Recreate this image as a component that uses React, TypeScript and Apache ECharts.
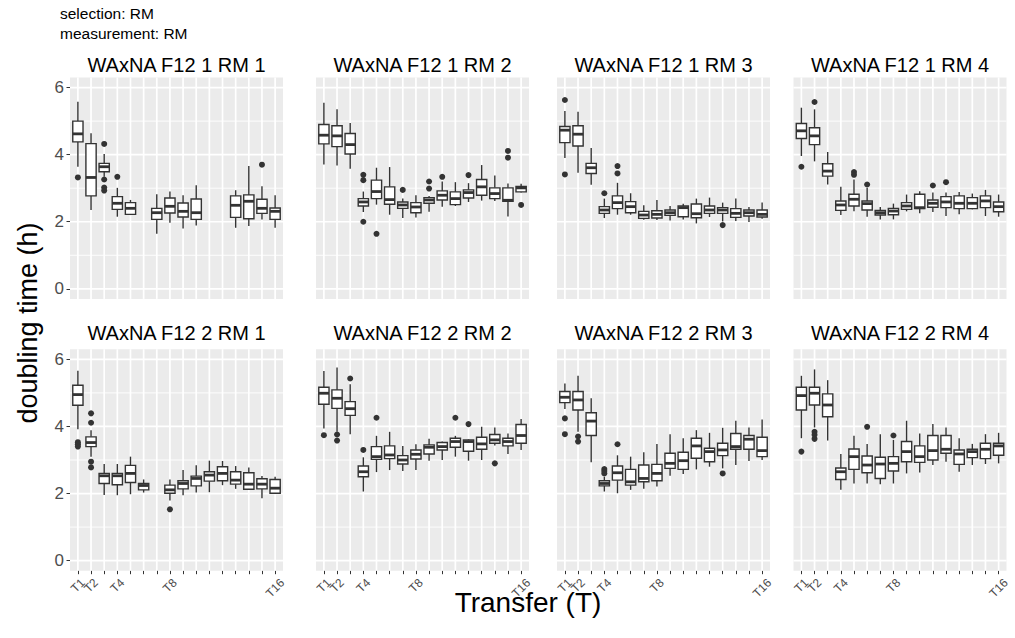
import React, { useEffect, useRef } from "react";
import * as echarts from "echarts";

// ---------- data ----------
const transferPositions = [1, 2, 3, 4, 5, 6, 7, 8, 9, 10, 11, 12, 13, 14, 15, 16];
const labeledTransfers = [1, 2, 4, 8, 16];
const yMajorTicks = [0, 2, 4, 6];
const yMinorTicks = [1, 3, 5];

const panelTitles = [
  "WAxNA F12 1 RM 1", "WAxNA F12 1 RM 2", "WAxNA F12 1 RM 3", "WAxNA F12 1 RM 4",
  "WAxNA F12 2 RM 1", "WAxNA F12 2 RM 2", "WAxNA F12 2 RM 3", "WAxNA F12 2 RM 4",
];

// box rows: [transfer, min, q1, median, q3, max]
const boxes_1_RM1 = [
  [1, 3.64, 4.38, 4.62, 5.0, 5.58], [2, 2.35, 2.77, 3.32, 4.33, 4.64], [3, 3.34, 3.49, 3.64, 3.74, 4.02],
  [4, 2.15, 2.37, 2.55, 2.75, 3.01], [5, 2.2, 2.22, 2.4, 2.57, 2.65], [7, 1.64, 2.07, 2.27, 2.4, 2.82],
  [8, 1.97, 2.26, 2.46, 2.71, 2.9], [9, 1.8, 2.14, 2.31, 2.56, 2.79], [10, 1.89, 2.07, 2.27, 2.68, 3.09],
  [13, 1.82, 2.13, 2.49, 2.77, 2.94], [14, 1.87, 2.09, 2.61, 2.8, 3.66], [15, 2.07, 2.25, 2.4, 2.67, 3.06],
  [16, 1.82, 2.07, 2.31, 2.41, 2.79],
];
const outliers_1_RM1 = [[1, 3.32], [3, 4.32], [3, 3.26], [3, 3.02], [3, 2.93], [4, 3.34], [15, 3.7]];

const boxes_1_RM2 = [
  [1, 3.71, 4.32, 4.58, 4.9, 5.55], [2, 3.68, 4.24, 4.56, 4.86, 5.35], [3, 3.58, 4.02, 4.3, 4.63, 4.94],
  [4, 2.29, 2.47, 2.59, 2.69, 2.9], [5, 2.51, 2.69, 2.9, 3.24, 3.61], [6, 2.21, 2.52, 2.66, 3.04, 3.63],
  [7, 2.11, 2.4, 2.5, 2.59, 2.69], [8, 2.13, 2.27, 2.44, 2.57, 2.79], [9, 2.3, 2.55, 2.65, 2.72, 2.77],
  [10, 2.45, 2.65, 2.79, 2.92, 3.2], [11, 2.47, 2.51, 2.69, 2.89, 3.18], [12, 2.59, 2.71, 2.87, 2.95, 3.15],
  [13, 2.63, 2.79, 3.04, 3.26, 3.69], [14, 2.62, 2.69, 2.84, 3.01, 3.38], [15, 2.16, 2.61, 2.64, 3.01, 3.14],
  [16, 2.87, 2.89, 3.01, 3.05, 3.13],
];
const outliers_1_RM2 = [
  [4, 3.4], [4, 3.24], [4, 2.0], [5, 1.64], [7, 2.95], [9, 3.2], [9, 2.99], [10, 3.34], [12, 3.39],
  [15, 4.11], [15, 3.91], [16, 2.5],
];

const boxes_1_RM3 = [
  [1, 3.9, 4.36, 4.73, 4.84, 5.3], [2, 3.46, 4.26, 4.61, 4.86, 5.28], [3, 3.1, 3.44, 3.61, 3.74, 4.2],
  [4, 2.11, 2.25, 2.35, 2.45, 2.69], [5, 2.21, 2.39, 2.57, 2.77, 3.16], [6, 2.21, 2.27, 2.45, 2.6, 2.85],
  [7, 2.06, 2.1, 2.2, 2.31, 2.49], [8, 2.05, 2.11, 2.22, 2.33, 2.65], [9, 2.04, 2.19, 2.27, 2.35, 2.47],
  [10, 2.07, 2.15, 2.42, 2.47, 2.54], [11, 1.95, 2.12, 2.24, 2.53, 2.69], [12, 2.14, 2.25, 2.35, 2.47, 2.72],
  [13, 2.01, 2.25, 2.35, 2.42, 2.57], [14, 2.02, 2.13, 2.25, 2.39, 2.69], [15, 1.99, 2.17, 2.27, 2.35, 2.44],
  [16, 2.09, 2.14, 2.22, 2.35, 2.57],
];
const outliers_1_RM3 = [[1, 5.63], [1, 3.41], [4, 2.85], [5, 3.66], [5, 3.44], [13, 1.9]];

const boxes_1_RM4 = [
  [1, 3.96, 4.48, 4.71, 4.93, 5.4], [2, 3.8, 4.3, 4.56, 4.8, 5.35], [3, 3.11, 3.36, 3.51, 3.73, 4.08],
  [4, 2.2, 2.34, 2.5, 2.62, 3.04], [5, 2.31, 2.47, 2.67, 2.82, 3.26], [6, 2.15, 2.35, 2.54, 2.62, 3.01],
  [7, 2.07, 2.2, 2.27, 2.34, 2.44], [8, 2.07, 2.21, 2.32, 2.4, 2.54], [9, 2.31, 2.37, 2.47, 2.57, 2.81],
  [10, 2.25, 2.39, 2.42, 2.82, 2.91], [11, 2.29, 2.43, 2.55, 2.65, 2.87], [12, 2.17, 2.42, 2.59, 2.75, 2.87],
  [13, 2.22, 2.39, 2.55, 2.77, 2.89], [14, 2.37, 2.39, 2.55, 2.72, 2.84], [15, 2.17, 2.42, 2.62, 2.77, 2.95],
  [16, 2.15, 2.3, 2.45, 2.59, 2.81],
];
const outliers_1_RM4 = [[1, 3.64], [2, 5.57], [5, 3.48], [5, 3.4], [6, 3.11], [11, 3.08], [12, 3.18]];

const boxes_2_RM1 = [
  [1, 3.92, 4.63, 4.95, 5.23, 5.66], [2, 3.1, 3.4, 3.52, 3.69, 3.89], [3, 1.96, 2.3, 2.53, 2.6, 2.88],
  [4, 1.95, 2.26, 2.53, 2.6, 2.88], [5, 1.98, 2.33, 2.6, 2.84, 3.1], [6, 2.03, 2.11, 2.24, 2.3, 2.42],
  [8, 1.79, 2.01, 2.11, 2.25, 2.42], [9, 1.95, 2.14, 2.3, 2.38, 2.7], [10, 2.03, 2.23, 2.45, 2.52, 2.84],
  [11, 2.04, 2.37, 2.55, 2.65, 2.98], [12, 2.25, 2.38, 2.6, 2.8, 2.97], [13, 2.14, 2.28, 2.4, 2.65, 2.82],
  [14, 2.11, 2.13, 2.28, 2.62, 2.78], [15, 1.86, 2.14, 2.28, 2.44, 2.52], [16, 1.99, 2.01, 2.16, 2.42, 2.5],
];
const outliers_2_RM1 = [[1, 3.53], [1, 3.47], [1, 3.4], [2, 4.39], [2, 4.11], [2, 2.95], [2, 2.78], [8, 1.53]];

const boxes_2_RM2 = [
  [1, 3.94, 4.66, 4.99, 5.17, 5.65], [2, 3.84, 4.54, 4.84, 5.09, 5.76], [3, 3.77, 4.33, 4.53, 4.74, 5.26],
  [4, 2.06, 2.5, 2.65, 2.82, 3.08], [5, 2.64, 3.02, 3.1, 3.4, 3.72], [6, 2.7, 3.04, 3.15, 3.42, 3.84],
  [7, 2.67, 2.88, 3.0, 3.13, 3.42], [8, 2.7, 3.03, 3.17, 3.3, 3.47], [9, 2.98, 3.18, 3.38, 3.45, 3.63],
  [10, 3.0, 3.3, 3.4, 3.52, 3.55], [11, 3.1, 3.38, 3.55, 3.65, 3.72], [12, 2.98, 3.26, 3.55, 3.6, 3.62],
  [13, 3.0, 3.32, 3.48, 3.68, 3.99], [14, 3.43, 3.5, 3.6, 3.76, 3.97], [15, 3.18, 3.42, 3.55, 3.65, 3.79],
  [16, 3.3, 3.5, 3.73, 4.06, 4.22],
];
const outliers_2_RM2 = [[1, 3.74], [2, 3.76], [2, 3.58], [3, 5.43], [4, 3.3], [5, 4.26], [11, 4.26], [12, 4.07], [14, 2.9]];

const boxes_2_RM3 = [
  [1, 4.52, 4.71, 4.87, 5.04, 5.28], [2, 3.84, 4.49, 4.79, 5.04, 5.51], [3, 2.93, 3.73, 4.16, 4.41, 4.84],
  [4, 2.06, 2.23, 2.3, 2.38, 2.5], [5, 2.01, 2.4, 2.62, 2.82, 3.14], [6, 2.11, 2.25, 2.35, 2.72, 3.1],
  [7, 2.14, 2.35, 2.45, 2.85, 3.23], [8, 2.21, 2.38, 2.6, 2.87, 3.48], [9, 2.53, 2.75, 2.9, 3.2, 3.77],
  [10, 2.58, 2.72, 2.98, 3.23, 3.65], [11, 2.72, 3.05, 3.42, 3.65, 3.89], [12, 2.8, 2.95, 3.25, 3.35, 3.81],
  [13, 2.75, 3.13, 3.3, 3.5, 3.96], [14, 2.85, 3.32, 3.4, 3.79, 4.17], [15, 2.97, 3.32, 3.62, 3.73, 3.97],
  [16, 3.0, 3.1, 3.28, 3.68, 4.21],
];
const outliers_2_RM3 = [[1, 4.24], [1, 3.77], [2, 3.7], [2, 3.55], [4, 2.73], [4, 2.67], [4, 2.6], [5, 3.47], [13, 2.6]];

const boxes_2_RM4 = [
  [1, 3.65, 4.49, 4.92, 5.17, 5.51], [2, 3.97, 4.64, 4.99, 5.17, 5.7], [3, 3.58, 4.29, 4.64, 4.97, 5.38],
  [4, 2.11, 2.42, 2.65, 2.76, 3.18], [5, 2.3, 2.72, 3.1, 3.33, 3.72], [6, 2.3, 2.62, 2.85, 3.12, 3.48],
  [7, 2.28, 2.45, 2.88, 3.08, 3.77], [8, 2.3, 2.67, 2.9, 3.1, 3.6], [9, 2.6, 2.95, 3.25, 3.55, 4.17],
  [10, 2.63, 2.93, 3.1, 3.42, 3.79], [11, 2.85, 3.0, 3.28, 3.73, 4.07], [12, 2.95, 3.2, 3.32, 3.73, 3.97],
  [13, 2.65, 2.87, 3.18, 3.3, 3.65], [14, 2.85, 3.07, 3.25, 3.32, 3.48], [15, 2.88, 3.04, 3.32, 3.5, 3.77],
  [16, 2.9, 3.14, 3.42, 3.5, 3.81],
];
const outliers_2_RM4 = [[1, 3.25], [2, 3.84], [2, 3.75], [2, 3.63], [6, 3.99], [8, 3.73]];

const panelBoxes = [boxes_1_RM1, boxes_1_RM2, boxes_1_RM3, boxes_1_RM4, boxes_2_RM1, boxes_2_RM2, boxes_2_RM3, boxes_2_RM4];
const panelOutliers = [outliers_1_RM1, outliers_1_RM2, outliers_1_RM3, outliers_1_RM4, outliers_2_RM1, outliers_2_RM2, outliers_2_RM3, outliers_2_RM4];

// ---------- layout / style ----------
const COL_LEFT = [70, 316, 557, 793.5];
const ROW_TOP = [77.5, 349.3];
const PANEL_W = 213;
const PANEL_H = 221.4;
const LINE = "#333333";
const AXIS_TEXT = "#4D4D4D";
const FONT = "'Liberation Sans', Arial, Helvetica, sans-serif";
const BOX_WIDTH = 0.78;
const XLAB_FS = 12;

function renderBox(params: any, api: any) {
  const x = api.value(0);
  const lo = api.coord([x, api.value(1)]);
  const q1 = api.coord([x, api.value(2)]);
  const med = api.coord([x, api.value(3)]);
  const q3 = api.coord([x, api.value(4)]);
  const hi = api.coord([x, api.value(5)]);
  const hw = api.size([BOX_WIDTH, 0])[0] / 2;
  const cx = lo[0];
  return {
    type: "group",
    children: [
      { type: "line", shape: { x1: cx, y1: hi[1], x2: cx, y2: q3[1] }, style: { stroke: LINE, lineWidth: 1.4 } },
      { type: "line", shape: { x1: cx, y1: q1[1], x2: cx, y2: lo[1] }, style: { stroke: LINE, lineWidth: 1.4 } },
      {
        type: "rect",
        shape: { x: cx - hw, y: q3[1], width: 2 * hw, height: q1[1] - q3[1] },
        style: { fill: "#ffffff", stroke: LINE, lineWidth: 1.4 },
      },
      { type: "line", shape: { x1: cx - hw, y1: med[1], x2: cx + hw, y2: med[1] }, style: { stroke: LINE, lineWidth: 2.8 } },
    ],
  };
}

function hLineRenderer(width: number) {
  return (params: any, api: any) => {
    const cs = params.coordSys;
    const y = api.coord([1, api.value(0)])[1];
    return {
      type: "line",
      shape: { x1: cs.x, y1: y, x2: cs.x + cs.width, y2: y },
      style: { stroke: "#ffffff", lineWidth: width },
      silent: true,
    };
  };
}

function vLineRenderer(width: number) {
  return (params: any, api: any) => {
    const cs = params.coordSys;
    const x = api.coord([api.value(0), 0])[0];
    return {
      type: "line",
      shape: { x1: x, y1: cs.y, x2: x, y2: cs.y + cs.height },
      style: { stroke: "#ffffff", lineWidth: width },
      silent: true,
    };
  };
}

// rotated x tick labels (45° counter-clockwise), centred under their tick
function renderXLabel(params: any, api: any) {
  const v = api.value(0);
  const cs = params.coordSys;
  const x = api.coord([v, 0])[0];
  const text = "T" + v;
  const approxW = text.length * 0.6 * XLAB_FS;
  const y = cs.y + cs.height + 5.5 + (approxW + XLAB_FS) * 0.354;
  return {
    type: "text",
    x,
    y,
    rotation: Math.PI / 4,
    silent: true,
    style: {
      text,
      fontSize: XLAB_FS,
      fontFamily: FONT,
      fill: AXIS_TEXT,
      align: "center",
      verticalAlign: "middle",
    },
  };
}

function buildOption() {
  const grids: any[] = [];
  const xAxes: any[] = [];
  const yAxes: any[] = [];
  const series: any[] = [];
  const graphics: any[] = [];

  for (let i = 0; i < 8; i++) {
    const row = Math.floor(i / 4);
    const col = i % 4;
    const bottomRow = row === 1;
    const leftCol = col === 0;
    grids.push({
      left: COL_LEFT[col],
      top: ROW_TOP[row],
      width: PANEL_W,
      height: PANEL_H,
      show: true,
      backgroundColor: "#EBEBEB",
      borderWidth: 0,
      containLabel: false,
    });
    xAxes.push({
      type: "value",
      gridIndex: i,
      min: 0.4,
      max: 16.6,
      axisLine: { show: false, onZero: false },
      splitLine: { show: false },
      minorSplitLine: { show: false },
      axisTick: {
        show: bottomRow,
        customValues: transferPositions,
        length: 3.5,
        lineStyle: { color: LINE, width: 1 },
      },
      axisLabel: { show: false },
    });
    yAxes.push({
      type: "value",
      gridIndex: i,
      min: -0.3,
      max: 6.3,
      axisLine: { show: false, onZero: false },
      splitLine: { show: false },
      axisTick: {
        show: leftCol,
        customValues: yMajorTicks,
        length: 3.5,
        lineStyle: { color: LINE, width: 1 },
      },
      axisLabel: {
        show: leftCol,
        customValues: yMajorTicks,
        fontSize: 17,
        color: AXIS_TEXT,
        fontFamily: FONT,
        margin: 6,
      },
    });
    series.push({
      type: "custom",
      xAxisIndex: i,
      yAxisIndex: i,
      z: 1,
      silent: true,
      data: yMinorTicks.map((v) => [v]),
      renderItem: hLineRenderer(0.9),
    });
    series.push({
      type: "custom",
      xAxisIndex: i,
      yAxisIndex: i,
      z: 1,
      silent: true,
      data: yMajorTicks.map((v) => [v]),
      renderItem: hLineRenderer(1.7),
    });
    series.push({
      type: "custom",
      xAxisIndex: i,
      yAxisIndex: i,
      z: 1,
      silent: true,
      data: transferPositions.map((v) => [v]),
      renderItem: vLineRenderer(1.7),
    });
    if (bottomRow) {
      series.push({
        type: "custom",
        xAxisIndex: i,
        yAxisIndex: i,
        z: 4,
        silent: true,
        clip: false,
        data: labeledTransfers.map((v) => [v]),
        renderItem: renderXLabel,
      });
    }
    series.push({
      type: "custom",
      xAxisIndex: i,
      yAxisIndex: i,
      z: 2,
      encode: { x: 0, y: [1, 2, 3, 4, 5] },
      data: panelBoxes[i],
      renderItem: renderBox,
    });
    series.push({
      type: "scatter",
      xAxisIndex: i,
      yAxisIndex: i,
      z: 3,
      symbol: "circle",
      symbolSize: 6,
      itemStyle: { color: LINE, opacity: 1 },
      data: panelOutliers[i],
    });
    graphics.push({
      type: "text",
      x: COL_LEFT[col] + PANEL_W / 2,
      y: row === 0 ? 64.5 : 333,
      style: {
        text: panelTitles[i],
        fontSize: 20,
        fontFamily: FONT,
        fill: "#000000",
        align: "center",
        verticalAlign: "middle",
      },
    });
  }

  graphics.push(
    {
      type: "text",
      x: 60,
      y: 13,
      style: { text: "selection: RM", fontSize: 15.5, fontFamily: FONT, fill: "#000", align: "left", verticalAlign: "middle" },
    },
    {
      type: "text",
      x: 60,
      y: 33,
      style: { text: "measurement: RM", fontSize: 15.5, fontFamily: FONT, fill: "#000", align: "left", verticalAlign: "middle" },
    },
    {
      type: "text",
      x: 528,
      y: 602,
      style: { text: "Transfer (T)", fontSize: 28, fontFamily: FONT, fill: "#000", align: "center", verticalAlign: "middle" },
    },
    {
      type: "text",
      x: 28,
      y: 323,
      rotation: Math.PI / 2,
      style: { text: "doubling time (h)", fontSize: 27, fontFamily: FONT, fill: "#000", align: "center", verticalAlign: "middle" },
    }
  );

  return {
    animation: false,
    backgroundColor: "#ffffff",
    textStyle: { fontFamily: FONT },
    grid: grids,
    xAxis: xAxes,
    yAxis: yAxes,
    series,
    graphic: graphics,
  };
}

export default function App() {
  const ref = useRef<HTMLDivElement>(null);
  useEffect(() => {
    if (!ref.current) return;
    const chart = echarts.init(ref.current, undefined, { renderer: "svg" });
    chart.setOption(buildOption() as any);
    return () => chart.dispose();
  }, []);
  return (
    <div
      ref={ref}
      style={{ position: "absolute", left: 0, top: 0, width: 1015, height: 638, background: "#fff" }}
    />
  );
}
